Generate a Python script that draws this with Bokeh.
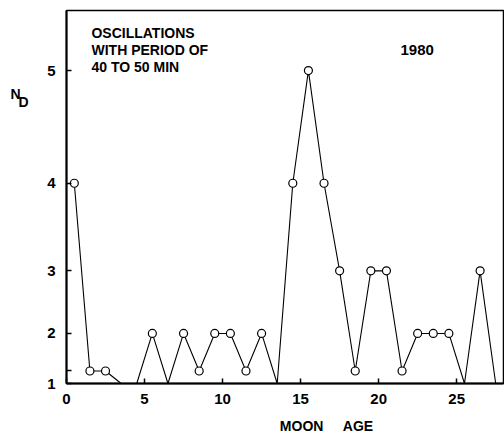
from bokeh.plotting import figure
from bokeh.models import FixedTicker, Label, LinearAxis
from bokeh.embed import file_html
from bokeh.resources import INLINE

# ---- data ----
moon_age = [0.5, 1.5, 2.5, 3.5, 4.5, 5.5, 6.5, 7.5, 8.5, 9.5, 10.5, 11.5, 12.5, 13.5,
            14.5, 15.5, 16.5, 17.5, 18.5, 19.5, 20.5, 21.5, 22.5, 23.5, 24.5, 25.5, 26.5, 27.5]
n_d = [4, 1, 1, 0, 0, 2, 0, 2, 1, 2, 2, 1, 2, 0,
       4, 5, 4, 3, 1, 3, 3, 1, 2, 2, 2, 0, 3, 0]
x_ticks = [0, 5, 10, 15, 20, 25]
x_tick_labels = ["0", "5", "10", "15", "20", "25"]
y_tick_values = [0, 1, 2, 3, 4, 5]
y_tick_labels = ["1", "", "2", "3", "4", "5"]

# the vertical axis of the original is quadratic in N_D
def yscale(v):
    return v * v

FONT = "Liberation Sans"
NB = "\u00a0"

p = figure(width=504, height=436, x_range=(0, 28), y_range=(0, 29.8),
           output_backend="svg", toolbar_location=None,
           min_border_left=66, min_border_right=1, min_border_top=10, min_border_bottom=53)
p.grid.visible = False
p.background_fill_color = "white"
p.border_fill_color = "white"
p.outline_line_color = "black"
p.outline_line_width = 1.5

ys = [yscale(v) for v in n_d]
p.line(moon_age, ys, line_color="black", line_width=1.1)
mx = [a for a, v in zip(moon_age, n_d) if v > 0]
my = [yscale(v) for v in n_d if v > 0]
p.scatter(mx, my, marker="circle", size=8, fill_color="white", line_color="black", line_width=1.2)

# axes
xa = p.xaxis[0]
xa.ticker = FixedTicker(ticks=x_ticks)
xa.major_label_overrides = {t: l for t, l in zip(x_ticks, x_tick_labels)}
ya = p.yaxis[0]
yt = [yscale(v) for v in y_tick_values]
ya.ticker = FixedTicker(ticks=yt)
ya.major_label_overrides = {t: l for t, l in zip(yt, y_tick_labels)}
for ax in (xa, ya):
    ax.axis_line_width = 2
    ax.axis_line_color = "black"
    ax.major_tick_in = 5
    ax.major_tick_out = 0
    ax.major_tick_line_width = 1.5
    ax.minor_tick_line_color = None
    ax.major_label_text_font = FONT
    ax.major_label_text_font_style = "bold"
    ax.major_label_text_font_size = "15px"
    ax.major_label_text_color = "black"
xa.major_label_standoff = 10
ya.major_label_standoff = 11

def name_axis(pos, texts, standoff, size):
    return LinearAxis(ticker=FixedTicker(ticks=pos),
                      major_label_overrides={t: s for t, s in zip(pos, texts)},
                      axis_line_color=None, major_tick_line_color=None, minor_tick_line_color=None,
                      major_label_standoff=standoff, major_label_text_font=FONT,
                      major_label_text_font_style="bold", major_label_text_font_size=size,
                      major_label_text_color="black")

# y-axis name "N_D" as a second, line-less left axis
nd_pos = [23.13, 22.52]
nd_txt = ["N" + NB * 2, "D"]
p.add_layout(name_axis(nd_pos, nd_txt, 10, "14px"), "left")

# x-axis name as a second, line-less axis below
xname_pos = [16.66]
xname_txt = ["MOON" + NB * 5 + "AGE"]
p.add_layout(name_axis(xname_pos, xname_txt, 5, "14px"), "below")

def lab(text, x, y, size="14px"):
    p.add_layout(Label(x=x, y=y, text=text, text_font=FONT, text_font_style="bold",
                       text_font_size=size, text_color="black", text_baseline="alphabetic",
                       text_align="left"))

lab("OSCILLATIONS", 1.6, 28.02)
lab("WITH PERIOD OF", 1.6, 26.63)
lab("40 TO 50 MIN", 1.6, 25.27)
lab("1980", 21.4, 26.65, size="15px")

open("out.html", "w").write(file_html(p, INLINE))
